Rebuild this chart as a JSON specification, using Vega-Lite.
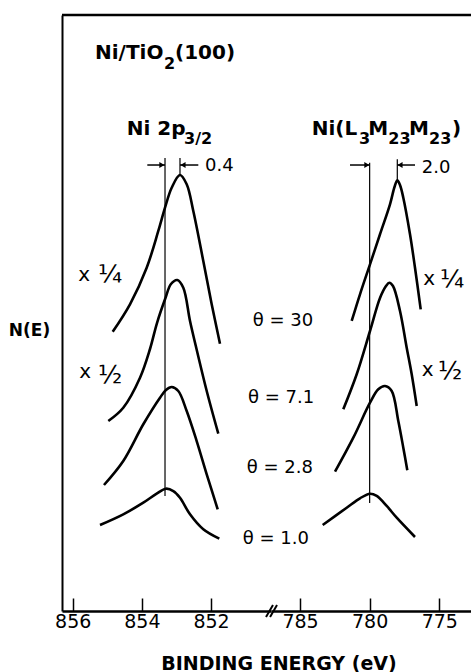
{
  "$schema": "https://vega.github.io/schema/vega-lite/v6.json",
  "padding": {"left": 8, "top": 13, "right": 0, "bottom": 0},
  "autosize": {"type": "pad"},
  "background": "white",
  "spacing": 0,
  "bounds": "flush",
  "config": {
    "view": {"stroke": null},
    "font": "DejaVu Sans",
    "axis": {"grid": false, "domainColor": "black", "tickColor": "black", "labelColor": "black", "titleColor": "black", "labelFont": "DejaVu Sans", "titleFont": "DejaVu Sans"}
  },
  "datasets": {
    "leftCurves": [
      {"theta": "30", "be": 854.843, "n": 46.86}, {"theta": "30", "be": 854.343, "n": 51.46}, {"theta": "30", "be": 853.860, "n": 57.60}, {"theta": "30", "be": 853.524, "n": 63.76}, {"theta": "30", "be": 853.330, "n": 67.67}, {"theta": "30", "be": 853.137, "n": 71.02}, {"theta": "30", "be": 852.897, "n": 73.15}, {"theta": "30", "be": 852.703, "n": 71.59}, {"theta": "30", "be": 852.512, "n": 67.11}, {"theta": "30", "be": 852.223, "n": 58.72}, {"theta": "30", "be": 851.980, "n": 51.46}, {"theta": "30", "be": 851.740, "n": 44.85},
      {"theta": "7.1", "be": 854.970, "n": 31.88}, {"theta": "7.1", "be": 854.537, "n": 34.11}, {"theta": "7.1", "be": 854.053, "n": 39.14}, {"theta": "7.1", "be": 853.764, "n": 43.96}, {"theta": "7.1", "be": 853.562, "n": 48.32}, {"theta": "7.1", "be": 853.330, "n": 52.30}, {"theta": "7.1", "be": 853.157, "n": 54.87}, {"theta": "7.1", "be": 852.975, "n": 55.54}, {"theta": "7.1", "be": 852.801, "n": 54.24}, {"theta": "7.1", "be": 852.607, "n": 48.66}, {"theta": "7.1", "be": 852.405, "n": 43.62}, {"theta": "7.1", "be": 852.124, "n": 36.91}, {"theta": "7.1", "be": 851.789, "n": 29.75},
      {"theta": "2.8", "be": 855.095, "n": 21.14}, {"theta": "2.8", "be": 854.537, "n": 25.17}, {"theta": "2.8", "be": 853.958, "n": 31.33}, {"theta": "2.8", "be": 853.475, "n": 35.79}, {"theta": "2.8", "be": 853.302, "n": 37.08}, {"theta": "2.8", "be": 853.137, "n": 37.58}, {"theta": "2.8", "be": 852.946, "n": 36.91}, {"theta": "2.8", "be": 852.703, "n": 33.56}, {"theta": "2.8", "be": 852.414, "n": 28.52}, {"theta": "2.8", "be": 852.124, "n": 22.94}, {"theta": "2.8", "be": 851.806, "n": 17.06},
      {"theta": "1.0", "be": 855.210, "n": 14.43}, {"theta": "1.0", "be": 854.537, "n": 16.22}, {"theta": "1.0", "be": 853.958, "n": 18.17}, {"theta": "1.0", "be": 853.571, "n": 19.68}, {"theta": "1.0", "be": 853.302, "n": 20.52}, {"theta": "1.0", "be": 853.090, "n": 20.13}, {"theta": "1.0", "be": 852.897, "n": 19.01}, {"theta": "1.0", "be": 852.607, "n": 16.22}, {"theta": "1.0", "be": 852.223, "n": 13.71}, {"theta": "1.0", "be": 851.760, "n": 12.13}
    ],
    "rightCurves": [
      {"theta": "30", "be": 781.289, "n": 48.66}, {"theta": "30", "be": 780.693, "n": 53.14}, {"theta": "30", "be": 779.975, "n": 58.17}, {"theta": "30", "be": 779.257, "n": 63.21}, {"theta": "30", "be": 778.539, "n": 68.24}, {"theta": "30", "be": 778.216, "n": 71.14}, {"theta": "30", "be": 778.015, "n": 72.26}, {"theta": "30", "be": 777.821, "n": 71.48}, {"theta": "30", "be": 777.584, "n": 69.35}, {"theta": "30", "be": 777.103, "n": 63.21}, {"theta": "30", "be": 776.744, "n": 57.60}, {"theta": "30", "be": 776.335, "n": 50.62},
      {"theta": "7.1", "be": 781.892, "n": 33.84}, {"theta": "7.1", "be": 780.930, "n": 39.72}, {"theta": "7.1", "be": 779.975, "n": 46.98}, {"theta": "7.1", "be": 779.257, "n": 52.52}, {"theta": "7.1", "be": 778.826, "n": 54.53}, {"theta": "7.1", "be": 778.589, "n": 55.08}, {"theta": "7.1", "be": 778.324, "n": 54.53}, {"theta": "7.1", "be": 777.821, "n": 50.34}, {"theta": "7.1", "be": 777.340, "n": 44.18}, {"theta": "7.1", "be": 776.981, "n": 39.72}, {"theta": "7.1", "be": 776.622, "n": 34.40},
      {"theta": "2.8", "be": 782.487, "n": 23.37}, {"theta": "2.8", "be": 781.174, "n": 29.08}, {"theta": "2.8", "be": 779.975, "n": 34.95}, {"theta": "2.8", "be": 779.379, "n": 37.20}, {"theta": "2.8", "be": 778.898, "n": 37.75}, {"theta": "2.8", "be": 778.417, "n": 36.91}, {"theta": "2.8", "be": 777.943, "n": 31.88}, {"theta": "2.8", "be": 777.584, "n": 27.40}, {"theta": "2.8", "be": 777.297, "n": 23.61},
      {"theta": "1.0", "be": 783.370, "n": 14.43}, {"theta": "1.0", "be": 781.648, "n": 17.33}, {"theta": "1.0", "be": 780.693, "n": 18.91}, {"theta": "1.0", "be": 779.975, "n": 19.68}, {"theta": "1.0", "be": 779.494, "n": 19.30}, {"theta": "1.0", "be": 778.776, "n": 17.62}, {"theta": "1.0", "be": 778.058, "n": 15.65}, {"theta": "1.0", "be": 776.744, "n": 12.42}
    ]
  },
  "hconcat": [
    {
      "width": 209,
      "height": 596,
      "encoding": {
        "x": {"field": "be", "type": "quantitative", "scale": {"domain": [856.309, 850.265], "nice": false, "zero": false},
          "axis": {"orient": "bottom", "values": [856, 854, 852], "tickSize": -13, "tickWidth": 1.5, "labelPadding": 14, "labelFlush": false, "labelFontSize": 19, "domainWidth": 2.5,
            "title": "BINDING ENERGY (eV)", "titleX": 216.5, "titleY": 58, "titleAlign": "center", "titleAnchor": "start", "titleBaseline": "alphabetic", "titleFontSize": 19, "titleFontWeight": "bold"}},
        "y": {"field": "n", "type": "quantitative", "scale": {"domain": [0, 100], "nice": false, "zero": false},
          "axis": {"orient": "left", "ticks": false, "labels": false, "domainWidth": 2, "title": "N(E)", "titleAngle": 0, "titleAlign": "left", "titleBaseline": "middle", "titleX": -53.7, "titleY": 315, "titleFontSize": 17, "titleFontWeight": "bold"}}
      },
      "layer": [
        {"data": {"values": [{"edge": "top", "n": 100}]}, "mark": {"type": "rule", "color": "black", "strokeWidth": 2.5}, "encoding": {"x": null}},
        {"data": {"name": "leftCurves"}, "mark": {"type": "line", "interpolate": "catmull-rom", "color": "black", "strokeWidth": 2.6}, "encoding": {"detail": {"field": "theta"}}},
        {"data": {"values": [{"be": 853.33, "n": 19.3, "n2": 76.0}, {"be": 852.897, "n": 73.15, "n2": 76.0}]}, "mark": {"type": "rule", "color": "black", "strokeWidth": 1.2}, "encoding": {"y2": {"field": "n2"}}},
        {"data": {"values": [{"be": 853.842, "be2": 853.33, "n": 74.83}, {"be": 852.367, "be2": 852.897, "n": 74.83}]}, "mark": {"type": "rule", "color": "black", "strokeWidth": 1.5}, "encoding": {"x2": {"field": "be2"}}},
        {"data": {"values": [{"be": 853.42, "n": 74.83, "dir": "r"}, {"be": 852.81, "n": 74.83, "dir": "l"}]}, "mark": {"type": "point", "filled": true, "color": "black", "size": 35, "opacity": 1}, "encoding": {"shape": {"field": "dir", "type": "nominal", "scale": {"domain": ["r", "l"], "range": ["triangle-right", "triangle-left"]}, "legend": null}}},
        {"data": {"values": [{"be": 855.355, "n": 92.62, "label": "Ni/TiO"}, {"be": 853.041, "n": 92.62, "label": "(100)"}, {"be": 854.438, "n": 79.87, "label": "Ni 2p"}]}, "mark": {"type": "text", "align": "left", "baseline": "alphabetic", "fontSize": 20, "fontWeight": "bold", "color": "black"}, "encoding": {"text": {"field": "label"}}},
        {"data": {"values": [{"be": 853.359, "n": 90.94, "label": "2"}, {"be": 852.781, "n": 78.36, "label": "3/2"}]}, "mark": {"type": "text", "align": "left", "baseline": "alphabetic", "fontSize": 16, "fontWeight": "bold", "color": "black"}, "encoding": {"text": {"field": "label"}}},
        {"data": {"values": [{"be": 852.174, "n": 74.66, "label": "0.4"}, {"be": 850.794, "n": 48.66, "label": "θ = 30"}, {"be": 850.930, "n": 35.79, "label": "θ = 7.1"}, {"be": 850.968, "n": 24.04, "label": "θ = 2.8"}, {"be": 851.083, "n": 12.03, "label": "θ = 1.0"}]}, "mark": {"type": "text", "align": "left", "baseline": "middle", "fontSize": 18, "color": "black"}, "encoding": {"text": {"field": "label"}}},
        {"data": {"values": [{"be": 855.838, "n": 55.37, "label": "x"}, {"be": 855.809, "n": 39.09, "label": "x"}]}, "mark": {"type": "text", "align": "left", "baseline": "alphabetic", "fontSize": 20, "color": "black"}, "encoding": {"text": {"field": "label"}}},
        {"data": {"values": [{"be": 855.268, "n": 55.03, "label": "¼"}, {"be": 855.268, "n": 38.31, "label": "½"}]}, "mark": {"type": "text", "align": "left", "baseline": "alphabetic", "fontSize": 25, "color": "black"}, "encoding": {"text": {"field": "label"}}}
      ]
    },
    {
      "width": 200,
      "height": 596,
      "encoding": {
        "x": {"field": "be", "type": "quantitative", "scale": {"domain": [787.082, 772.724], "nice": false, "zero": false},
          "axis": {"orient": "bottom", "values": [785, 780, 775], "tickSize": -13, "tickWidth": 1.5, "labelPadding": 14, "labelFlush": false, "labelFontSize": 19, "domainWidth": 2.5, "title": null}},
        "y": {"field": "n", "type": "quantitative", "scale": {"domain": [0, 100], "nice": false, "zero": false}, "axis": null}
      },
      "layer": [
        {"data": {"values": [{"edge": "top", "n": 100}]}, "mark": {"type": "rule", "color": "black", "strokeWidth": 2.5}, "encoding": {"x": null}},
        {"data": {"name": "rightCurves"}, "mark": {"type": "line", "interpolate": "catmull-rom", "color": "black", "strokeWidth": 2.6}, "encoding": {"detail": {"field": "theta"}}},
        {"data": {"values": [{"be": 780.0, "n": 18.1, "n2": 75.2}, {"be": 778.015, "n": 72.3, "n2": 75.8}]}, "mark": {"type": "rule", "color": "black", "strokeWidth": 1.2}, "encoding": {"y2": {"field": "n2"}}},
        {"data": {"values": [{"be": 781.41, "be2": 780.0, "n": 74.83}, {"be": 776.744, "be2": 778.015, "n": 74.83}]}, "mark": {"type": "rule", "color": "black", "strokeWidth": 1.5}, "encoding": {"x2": {"field": "be2"}}},
        {"data": {"values": [{"be": 780.2, "n": 74.83, "dir": "r"}, {"be": 777.82, "n": 74.83, "dir": "l"}]}, "mark": {"type": "point", "filled": true, "color": "black", "size": 35, "opacity": 1}, "encoding": {"shape": {"field": "dir", "type": "nominal", "scale": {"domain": ["r", "l"], "range": ["triangle-right", "triangle-left"]}, "legend": null}}},
        {"data": {"values": [{"be": 787.44, "be2": 786.94, "n": -1.0, "n2": 1.0}, {"be": 787.15, "be2": 786.65, "n": -1.0, "n2": 1.0}]}, "mark": {"type": "rule", "color": "black", "strokeWidth": 2}, "encoding": {"x2": {"field": "be2"}, "y2": {"field": "n2"}}},
        {"data": {"values": [{"be": 784.160, "n": 79.87, "label": "Ni(L"}, {"be": 780.097, "n": 79.87, "label": "M"}, {"be": 777.175, "n": 79.87, "label": "M"}, {"be": 774.088, "n": 79.87, "label": ")"}]}, "mark": {"type": "text", "align": "left", "baseline": "alphabetic", "fontSize": 20, "fontWeight": "bold", "color": "black"}, "encoding": {"text": {"field": "label"}}},
        {"data": {"values": [{"be": 780.765, "n": 78.36, "label": "3"}, {"be": 778.661, "n": 78.36, "label": "23"}, {"be": 775.739, "n": 78.36, "label": "23"}]}, "mark": {"type": "text", "align": "left", "baseline": "alphabetic", "fontSize": 16, "fontWeight": "bold", "color": "black"}, "encoding": {"text": {"field": "label"}}},
        {"data": {"values": [{"be": 776.263, "n": 74.38, "label": "2.0"}]}, "mark": {"type": "text", "align": "left", "baseline": "middle", "fontSize": 18, "color": "black"}, "encoding": {"text": {"field": "label"}}},
        {"data": {"values": [{"be": 776.149, "n": 54.70, "label": "x"}, {"be": 776.263, "n": 39.43, "label": "x"}]}, "mark": {"type": "text", "align": "left", "baseline": "alphabetic", "fontSize": 20, "color": "black"}, "encoding": {"text": {"field": "label"}}},
        {"data": {"values": [{"be": 774.950, "n": 54.24, "label": "¼"}, {"be": 775.093, "n": 38.88, "label": "½"}]}, "mark": {"type": "text", "align": "left", "baseline": "alphabetic", "fontSize": 25, "color": "black"}, "encoding": {"text": {"field": "label"}}}
      ]
    }
  ]
}
